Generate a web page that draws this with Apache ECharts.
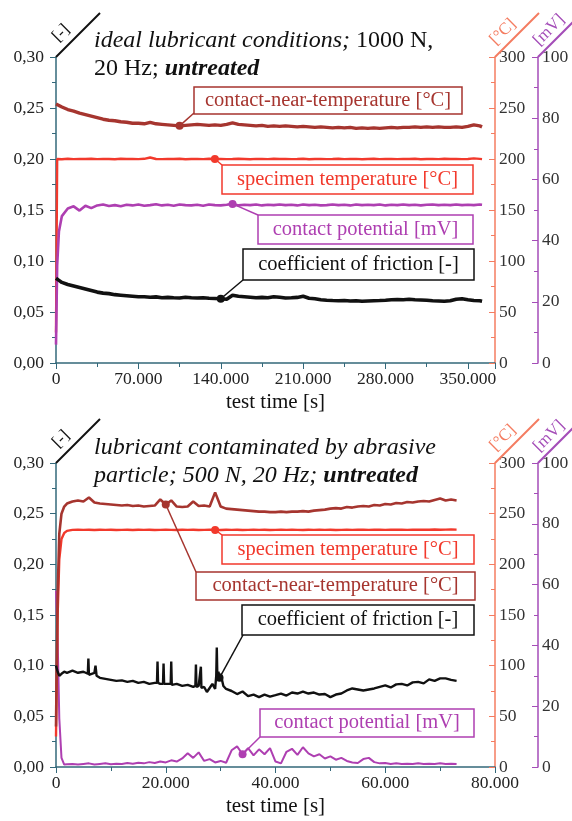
<!DOCTYPE html>
<html>
<head>
<meta charset="utf-8">
<script src="https://cdn.jsdelivr.net/npm/echarts@6.0.0/dist/echarts.min.js"></script>
<style>
html, body { margin: 0; padding: 0; background: #fff; }
#chart { width: 572px; height: 821px; }
</style>
</head>
<body>
<div id="chart"></div>
<script>
// ---- top panel: ideal lubricant, 1000 N, 20 Hz (time in s) ----
const t1 = [0, 1000, 2500, 5000, 10000, 15000, 20000, 25000, 30000, 35000,
  40000, 45000, 50000, 55000, 60000, 65000, 70000, 75000, 80000, 85000,
  90000, 95000, 100000, 105000, 110000, 115000, 120000, 125000, 130000, 135000,
  140000, 145000, 150000, 155000, 160000, 165000, 170000, 175000, 180000, 185000,
  190000, 195000, 200000, 205000, 210000, 215000, 220000, 225000, 230000, 235000,
  240000, 245000, 250000, 255000, 260000, 265000, 270000, 275000, 280000, 285000,
  290000, 295000, 300000, 305000, 310000, 315000, 320000, 325000, 330000, 335000,
  340000, 345000, 350000, 355000, 360000, 362000];
// contact-near-temperature [°C]
const near1 = [254, 253, 252.5, 251, 248.5, 247, 245, 243.5, 242, 240.5,
  239, 238, 237.5, 236.5, 236, 235, 235, 234.5, 236, 234.5,
  234, 233.5, 233, 232.5, 233, 233.5, 234, 233.5, 233, 233.5,
  233, 234, 235.5, 234, 233.5, 233, 232.5, 233, 232, 232.5,
  232, 232.5, 232, 231.5, 232, 231.5, 231, 231.5, 231, 230.5,
  231, 230.5, 231, 230, 230.5, 230, 230.5, 230, 230.5, 231,
  230.5, 231, 231, 231.5, 231, 231.5, 231, 231.5, 231, 231,
  231.5, 231, 232, 233.5, 232.5, 231.5];
// specimen temperature [°C]
const spec1 = [30, 200, 200.3, 199.8, 200.2, 199.9, 200.1, 200, 200.2, 199.9,
  200.1, 200, 199.8, 200.2, 200, 200.1, 199.9, 200.2, 201.5, 200,
  199.9, 200.1, 200, 200.2, 199.8, 200, 200.1, 199.9, 200.2, 200,
  200.1, 199.9, 200, 200.2, 200, 199.8, 200.1, 200, 199.9, 200.2,
  200, 200.1, 199.9, 200, 200.2, 199.8, 200, 200.1, 199.9, 200,
  200.2, 199.9, 200, 200.1, 199.8, 200, 200.2, 199.9, 200.1, 200,
  199.9, 200.1, 200, 200.2, 199.8, 200, 200.1, 199.9, 200.2, 200,
  200.1, 199.9, 200, 200.6, 200.1, 199.9];
// contact potential [mV]
const pot1 = [6, 32, 43, 48, 50.5, 51.2, 49.8, 51.4, 50.6, 51.5,
  51.8, 51.3, 51.6, 51.2, 51.7, 51.5, 51.8, 51.4, 51.6, 51.9,
  51.5, 51.7, 51.4, 51.8, 51.6, 51.5, 51.7, 51.4, 51.8, 51.6,
  51.5, 51.7, 52, 51.5, 51.7, 51.6, 51.8, 51.5, 51.7, 51.6,
  51.8, 51.6, 51.7, 51.5, 51.8, 51.6, 51.7, 51.5, 51.6, 51.8,
  51.6, 51.7, 51.5, 51.8, 51.6, 51.7, 51.6, 51.8, 51.5, 51.7,
  51.6, 51.8, 51.6, 51.7, 51.5, 51.7, 51.8, 51.6, 51.7, 51.6,
  51.8, 51.6, 51.7, 51.6, 51.8, 51.7];
// coefficient of friction [-]
const cof1 = [0.083, 0.082, 0.081, 0.079, 0.077, 0.0755, 0.074, 0.0725, 0.071, 0.0695,
  0.0685, 0.068, 0.067, 0.0665, 0.066, 0.0655, 0.065, 0.065, 0.0645, 0.0648,
  0.064, 0.0643, 0.064, 0.0638, 0.0645, 0.064, 0.0637, 0.064, 0.0635, 0.0633,
  0.063, 0.0625, 0.0665, 0.0655, 0.065, 0.0645, 0.064, 0.0643, 0.064, 0.065,
  0.0645, 0.0638, 0.064, 0.0643, 0.0655, 0.0635, 0.063, 0.062, 0.0615, 0.0612,
  0.061, 0.0612, 0.0608, 0.061, 0.0605, 0.0608, 0.061, 0.0612, 0.0615, 0.062,
  0.0622, 0.062, 0.0625, 0.062, 0.0618, 0.0615, 0.061, 0.0608, 0.0605, 0.061,
  0.0625, 0.063, 0.062, 0.0612, 0.061, 0.0605];

// ---- bottom panel: contaminated lubricant, 500 N, 20 Hz ----
const t2 = [0, 300, 600, 1000, 1500, 2000, 3000, 4000, 5000, 6000,
  7000, 8000, 9000, 10000, 11000, 12000, 13000, 14000, 15000, 16000,
  17000, 18000, 19000, 20000, 21000, 22000, 23000, 24000, 25000, 26000,
  27000, 28000, 29000, 30000, 31000, 32000, 33000, 34000, 35000, 36000,
  37000, 38000, 39000, 40000, 41000, 42000, 43000, 44000, 45000, 46000,
  47000, 48000, 49000, 50000, 51000, 52000, 53000, 54000, 55000, 56000,
  57000, 58000, 59000, 60000, 61000, 62000, 63000, 64000, 65000, 66000,
  67000, 68000, 69000, 70000, 71000, 72000, 73000];
const near2 = [40, 170, 230, 250, 257, 260, 262, 263, 262, 266,
  261, 260, 259.5, 259, 258.5, 258, 258.5, 257.5, 258, 257,
  257.5, 258, 264, 259, 263, 257, 256.5, 257, 262, 257.5,
  258, 257, 271, 257, 255, 254.5, 254, 253.5, 253, 252.5,
  252, 252, 251.5, 251.5, 252, 251.5, 252, 252, 252.5, 252,
  253, 253.5, 254, 255, 255.5, 255, 256.5, 256, 257, 257.5,
  257, 258.5, 258, 259.5, 259, 260.5, 260, 261.5, 261, 262,
  262.5, 262, 263.5, 265, 263, 264, 263];
const spec2 = [30, 150, 205, 225, 231, 233, 234, 234.3, 234, 234.2,
  233.9, 234.1, 234, 234.2, 233.9, 234, 234.1, 233.9, 234.2, 234,
  234.1, 233.9, 234, 234.2, 234, 233.9, 234.1, 234, 234.2, 233.9,
  234, 234.1, 234, 233.9, 234.2, 234, 234.1, 233.9, 234, 234.2,
  234, 234.1, 233.9, 234, 234.2, 234, 234.1, 234, 233.9, 234.2,
  234, 234.1, 234, 234.2, 233.9, 234, 234.1, 234, 234.2, 234.1,
  234, 234.2, 234.1, 234, 234.3, 234.1, 234.2, 234, 234.3, 234.2,
  234.3, 234.1, 234.4, 234.2, 234.3, 234.4, 234.3];
const pot2 = [58, 42, 16, 3, 0.8, 0.9, 1, 0.8, 1, 1.2,
  0.8, 1, 1.2, 0.9, 1.1, 1, 1.3, 1.1, 1.4, 1.2,
  1.6, 1.3, 1.8, 1.5, 2.2, 1.8, 2.8, 4.5, 3, 4.8,
  2, 2.6, 1.5, 2, 1.4, 5.5, 6.8, 4.2, 6.2, 3.8,
  5.8, 4.2, 6.2, 1.8, 1.2, 5, 6, 4, 6.5, 4.5,
  3.5, 4.2, 2.8, 3.5, 2.4, 3, 2, 1.5, 1.3, 2.6,
  3, 1.6, 1.2, 1.3, 1, 1.2, 1, 1.1, 1, 1.2,
  1, 1.1, 1, 1.2, 1, 1.1, 1];
// friction has its own time base so the short spikes stay narrow
const cofTime2 = [0, 300, 600, 1000, 1500, 2000, 3000, 4000, 5000,
  5800, 5900, 6000, 7000, 7200, 7400,
  8000, 9000, 10000, 11000, 12000, 13000, 14000, 15000, 16000, 17000,
  18000, 18400, 18500, 18600, 19000, 19500, 19600, 19700, 20000, 20900, 21000, 21100,
  22000, 23000, 24000, 25000, 25400, 25500, 25600, 26000, 26300, 26400, 26500,
  27000, 27500, 28000, 28500, 29000, 29200, 29300, 29400, 29600, 29800, 30000, 30500, 31000,
  32000, 33000, 34000, 35000, 36000, 37000, 38000, 39000, 40000, 41000,
  42000, 43000, 44000, 45000, 46000, 47000, 48000, 49000, 50000, 51000,
  52000, 53000, 54000, 55000, 56000, 57000, 58000, 59000, 60000, 61000,
  62000, 63000, 64000, 65000, 66000, 67000, 68000, 69000, 70000, 71000,
  72000, 73000];
const cof2 = [0.1, 0.094, 0.09, 0.092, 0.094, 0.093, 0.095, 0.093, 0.094,
  0.092, 0.107, 0.091, 0.093, 0.1, 0.09,
  0.088, 0.087, 0.086, 0.085, 0.0855, 0.084, 0.085, 0.083, 0.084, 0.082,
  0.083, 0.083, 0.104, 0.083, 0.082, 0.082, 0.102, 0.082, 0.083, 0.082, 0.104, 0.081,
  0.082, 0.08, 0.081, 0.079, 0.08, 0.101, 0.079, 0.08, 0.079, 0.099, 0.078,
  0.079, 0.074, 0.078, 0.082, 0.077, 0.09, 0.118, 0.09, 0.094, 0.088, 0.092, 0.08, 0.077,
  0.075, 0.072, 0.0745, 0.07, 0.0715, 0.069, 0.0715, 0.0695, 0.071, 0.0725,
  0.0705, 0.0735, 0.0725, 0.0745, 0.0725, 0.0735, 0.0715, 0.072, 0.069, 0.0715,
  0.0725, 0.0755, 0.0775, 0.0765, 0.0755, 0.0765, 0.0775, 0.079, 0.0805, 0.0785,
  0.0815, 0.082, 0.0805, 0.0835, 0.084, 0.0825, 0.0865, 0.085, 0.0875, 0.0875,
  0.086, 0.085];

const FONT = '"Liberation Serif", "Times New Roman", serif';
const C_NEAR = '#a6352f', C_SPEC = '#f2392c', C_POT = '#ae3fb1', C_COF = '#111111';
const C_LEFT = '#33687a', C_TEMP = '#f47c60', C_MV = '#a44db8';

const chart = echarts.init(document.getElementById('chart'));

function pairs(times, vals) {
  return times.map((t, i) => [t, vals[i]]);
}
function nearest(times, vals, t) {
  let b = 0;
  for (let i = 0; i < times.length; i++) {
    if (Math.abs(times[i] - t) < Math.abs(times[b] - t)) b = i;
  }
  return [times[b], vals[b]];
}
function thousands(v) {
  return v === 0 ? '0' : Math.round(v / 1000) + '.000';
}

function xAxis(gi, max, interval) {
  return {
    type: 'value', gridIndex: gi, min: 0, max: max, interval: interval,
    name: 'test time [s]', nameLocation: 'middle', nameGap: 29,
    nameTextStyle: { fontFamily: FONT, fontSize: 21, color: '#111' },
    axisLine: { lineStyle: { color: C_LEFT, width: 1.5 } },
    axisTick: { length: 6, lineStyle: { color: C_LEFT } },
    minorTick: { show: true, splitNumber: 2, length: 4, lineStyle: { color: C_LEFT } },
    splitLine: { show: false },
    axisLabel: {
      fontFamily: FONT, fontSize: 17.5, color: '#222', margin: 7,
      formatter: v => (v % interval === 0 ? thousands(v) : '')
    }
  };
}
function cofAxis(gi) {
  return {
    type: 'value', gridIndex: gi, position: 'left', min: 0, max: 0.3, interval: 0.05,
    axisLine: { show: true, lineStyle: { color: C_LEFT, width: 1.5 } },
    axisTick: { show: true, length: 6, lineStyle: { color: C_LEFT } },
    minorTick: { show: true, splitNumber: 2, length: 4, lineStyle: { color: C_LEFT } },
    splitLine: { show: false },
    axisLabel: {
      fontFamily: FONT, fontSize: 17.5, color: '#222', margin: 12,
      formatter: v => v.toFixed(2).replace('.', ',')
    }
  };
}
function rightAxis(gi, max, interval, color, offset) {
  return {
    type: 'value', gridIndex: gi, position: 'right', offset: offset,
    min: 0, max: max, interval: interval,
    axisLine: { show: true, lineStyle: { color: color, width: 1.5 } },
    axisTick: { show: true, inside: true, length: 6, lineStyle: { color: color } },
    minorTick: { show: true, splitNumber: 2, length: 4, lineStyle: { color: color } },
    splitLine: { show: false },
    axisLabel: { fontFamily: FONT, fontSize: 17.5, color: '#333', margin: 4 }
  };
}
function line(xi, yi, data, color, width, z) {
  return {
    type: 'line', xAxisIndex: xi, yAxisIndex: yi, data: data,
    showSymbol: false, symbol: 'none', sampling: null, silent: true, z: z,
    lineStyle: { color: color, width: width }, itemStyle: { color: color }
  };
}

chart.setOption({
  animation: false,
  grid: [
    { left: 56, top: 57, width: 439, height: 306, containLabel: false, outerBoundsMode: 'none' },
    { left: 56, top: 463, width: 439, height: 304, containLabel: false, outerBoundsMode: 'none' }
  ],
  xAxis: [xAxis(0, 373000, 70000), xAxis(1, 80000, 20000)],
  yAxis: [
    cofAxis(0), rightAxis(0, 300, 50, C_TEMP, 0), rightAxis(0, 100, 20, C_MV, 43),
    cofAxis(1), rightAxis(1, 300, 50, C_TEMP, 0), rightAxis(1, 100, 20, C_MV, 43)
  ],
  series: [
    line(0, 1, pairs(t1, spec1), C_SPEC, 2.4, 2),
    line(0, 1, pairs(t1, near1), C_NEAR, 3.4, 3),
    line(0, 2, pairs(t1, pot1), C_POT, 2.6, 4),
    line(0, 0, pairs(t1, cof1), C_COF, 3.6, 5),
    line(1, 5, pairs(t2, pot2), C_POT, 2, 2),
    line(1, 4, pairs(t2, spec2), C_SPEC, 2.4, 3),
    line(1, 4, pairs(t2, near2), C_NEAR, 2.6, 4),
    line(1, 3, pairs(cofTime2, cof2), C_COF, 2.4, 5)
  ]
});

// callout boxes, leader line ends on the curve
const notes = [
  { xi: 0, yi: 1, pt: nearest(t1, near1, 105000), color: C_NEAR, text: 'contact-near-temperature [°C]', box: [194, 87, 268, 27], corner: [194, 113] },
  { xi: 0, yi: 1, pt: nearest(t1, spec1, 135000), color: C_SPEC, text: 'specimen temperature [°C]', box: [222, 165, 251, 29], corner: [222, 165] },
  { xi: 0, yi: 2, pt: nearest(t1, pot1, 150000), color: C_POT, text: 'contact potential [mV]', box: [258, 215, 215, 29], corner: [258, 215] },
  { xi: 0, yi: 0, pt: nearest(t1, cof1, 140000), color: C_COF, text: 'coefficient of friction [-]', box: [243, 249, 231, 31], corner: [243, 280] },
  { xi: 1, yi: 4, pt: nearest(t2, spec2, 29000), color: C_SPEC, text: 'specimen temperature [°C]', box: [222, 535, 252, 29], corner: [222, 535] },
  { xi: 1, yi: 4, pt: nearest(t2, near2, 20000), color: C_NEAR, text: 'contact-near-temperature [°C]', box: [196, 572, 279, 28], corner: [196, 572] },
  { xi: 1, yi: 3, pt: nearest(cofTime2, cof2, 29800), color: C_COF, text: 'coefficient of friction [-]', box: [242, 605, 232, 30], corner: [243, 635] },
  { xi: 1, yi: 5, pt: nearest(t2, pot2, 34000), color: C_POT, text: 'contact potential [mV]', box: [260, 709, 214, 28], corner: [260, 737] }
];

const g = [];
function txt(x, y, text, extra) {
  return {
    type: 'text', x: x, y: y, z: 60,
    style: Object.assign({
      text: text, fill: '#111', font: '20.5px ' + FONT,
      align: 'center', verticalAlign: 'middle', textAlign: 'center', textVerticalAlign: 'middle'
    }, extra || {})
  };
}
notes.forEach(n => {
  const p = chart.convertToPixel({ xAxisIndex: n.xi, yAxisIndex: n.yi }, n.pt);
  g.push({ type: 'line', z: 50, shape: { x1: p[0], y1: p[1], x2: n.corner[0], y2: n.corner[1] }, style: { stroke: n.color, lineWidth: 1.5 } });
  g.push({ type: 'rect', z: 51, shape: { x: n.box[0], y: n.box[1], width: n.box[2], height: n.box[3] }, style: { fill: '#fff', stroke: n.color, lineWidth: 1.5 } });
  g.push(txt(n.box[0] + n.box[2] / 2, n.box[1] + n.box[3] / 2, n.text, { fill: n.color }));
  g.push({ type: 'circle', z: 55, shape: { cx: p[0], cy: p[1], r: 4 }, style: { fill: n.color } });
});

// unit labels on slanted strokes above each axis
[0, 406].forEach(dy => {
  const y0 = 57 + dy;
  [[56, '[-]', C_COF, 61, 33], [495, '[°C]', C_TEMP, 503, 32], [538, '[mV]', C_MV, 549, 30]].forEach(u => {
    g.push({ type: 'line', z: 50, shape: { x1: u[0], y1: y0, x2: u[0] + 44, y2: y0 - 44 }, style: { stroke: u[2], lineWidth: 2 } });
    const t = txt(u[3], u[4] + dy, u[1], { fill: u[2], font: '17px ' + FONT });
    t.rotation = Math.PI / 4;
    g.push(t);
  });
});

// panel titles
const rich = {
  it: { fontStyle: 'italic', fontFamily: FONT, fontSize: 24, fill: '#111', color: '#111' },
  rm: { fontFamily: FONT, fontSize: 24, fill: '#111', color: '#111' },
  bi: { fontStyle: 'italic', fontWeight: 'bold', fontFamily: FONT, fontSize: 24, fill: '#111', color: '#111' }
};
function title(x, y, text) {
  return { type: 'text', x: x, y: y, z: 60,
    style: { text: text, rich: rich, font: '24px ' + FONT, fill: '#111',
      align: 'left', verticalAlign: 'middle', textAlign: 'left', textVerticalAlign: 'middle' } };
}
g.push(title(94, 41, '{it|ideal lubricant conditions;} {rm|1000 N,}'));
g.push(title(94, 69, '{rm|20 Hz;} {bi|untreated}'));
g.push(title(94, 448, '{it|lubricant contaminated by abrasive}'));
g.push(title(94, 476, '{it|particle; 500 N, 20 Hz;} {bi|untreated}'));

chart.setOption({ graphic: g });
</script>
</body>
</html>
